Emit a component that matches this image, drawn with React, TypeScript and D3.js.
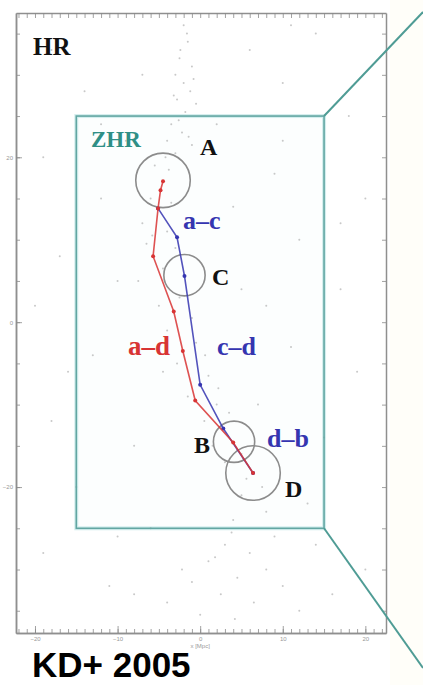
import React, { useEffect, useRef } from 'react';
import * as d3 from 'd3';

// path points, x / y in Mpc
const redX = [-4.5, -4.8, -5.1, -5.7, -3.2, -2.1, -0.6, 4.0, 6.4];
const redY = [17.1, 16.0, 13.8, 8.0, 1.3, -3.5, -9.5, -14.6, -18.3];
const blueX = [-5.1, -2.8, -1.9, 0.0, 2.8, 6.4];
const blueY = [13.8, 10.3, 5.6, -7.6, -12.9, -18.3];

const circleNames = ['A', 'C', 'B', 'D'];
const circleX = [-4.5, -1.9, 4.1, 6.4];
const circleY = [17.2, 5.7, -14.5, -18.3];
const circleR = [3.3, 2.5, 2.5, 3.3];

const zhrBox = [-15, 15, -25, 25];
const xTicks = [-20, -10, 0, 10, 20];
const yTicks = [-20, 0, 20];

// faint galaxies
const noiseX = [-2, -1.5, -2.5, -1, -3, -2, -1.2, -2.8, -0.5, -1.8, -3.5, -2.2, -4, -1, -3,
  -5.5, -3.8, -6, -3.5, -7, -4, -6.5, -3, -4.5, -7.5, -2.5, -5, -1, -4, -2.8, -0.5, -4.5, 1, -1.5, 2, 0.5, 3.5, 1.5, 5, 3, 7.5, 5, 8, 4,
  3, 6, 1, 8, 4.5, -1, 2.5, 6.5, 10, -4, 0, 12, -8,
  -18, -14, -19, -12, -17, -20, -13, -18, -15, -19, -11, -7, -9, -10, -8, -6, 6, 10, 14, 18, 9, 12, 17, 19, 11, 8, 15, 13, 20, 16, 7, 10, 4, 2, 5, -10, 11, 20,
  -1.6, -2.4, -0.8, -3.2, -2.6, -1.4, -4.2, -5.8, 0.6, 2.2, 5.6, 3.8, 1.8, -2.2, 4.2, 9, -12, -16, 14, 17];
const noiseY = [36, 34, 32, 31, 30, 29, 28, 27, 26.5, 25.5, 24, 23, 22, 21.5, 20.5,
  19, 18.5, 15, 14.5, 12, 11, 9.5, 9, 6.5, 5, 3, 2, 0.5, -1, -5, -2.5, -6, -6.5, -9, -10, -12, -11, -15, -16, -17, -20, -21, -23, -24,
  -27, -28, -29, -30, -31, -31.5, -33, -34, -32, -34, -35.5, -35, -33,
  33, 28, 20, 15, 8, 2, -4, -12, -20, -28, -32, 30, 22, 5, -15, -25, 33, 29, 35, 25, 18, 10, 4, -6, -3, 2, -14, -22, -30, -33, -10, 22, 14, 24, 4, -26, 36, 15,
  35, 33, 29.5, 27.5, 24.5, 22.5, 20, 10.5, -4, -8, -19, -25.5, -28.5, -30, -36, -26, 24, -6, -27, 12];

const W = 423;
const H = 685;

const App = () => {
  const svgRef = useRef<SVGSVGElement>(null);

  useEffect(() => {
    const svg = d3.select(svgRef.current);
    svg.selectAll('*').remove();

    const left = 16, right = 386, top = 13, bottom = 633;
    const x = d3.scaleLinear().domain([-22.3, 22.5]).range([left, right]);
    const y = d3.scaleLinear().domain([-37.7, 37.5]).range([bottom, top]);
    const px = (u: number) => x(u) - x(0);

    const serif = "'Liberation Serif', 'DejaVu Serif', serif";

    svg.append('rect').attr('x', 390).attr('y', 0).attr('width', W - 390).attr('height', H)
      .attr('fill', '#fffef9');

    // ZHR box glow
    svg.append('rect')
      .attr('x', x(zhrBox[0])).attr('y', y(zhrBox[3]))
      .attr('width', x(zhrBox[1]) - x(zhrBox[0]))
      .attr('height', y(zhrBox[2]) - y(zhrBox[3]))
      .attr('fill', '#fcfefe')
      .attr('stroke', '#d4eeee').attr('stroke-width', 4);

    // galaxies
    svg.append('g').selectAll('circle')
      .data(noiseX.map((d, i) => [d, noiseY[i]]))
      .enter().append('circle')
      .attr('cx', d => x(d[0])).attr('cy', d => y(d[1]))
      .attr('r', 1).attr('fill', '#9a9a9a').attr('opacity', 0.55);

    // axes
    const frame = svg.append('g').attr('color', '#8a8a8a').attr('font-family', 'sans-serif');
    const minorX = d3.range(-22, 23, 1);
    const minorY = d3.range(-35, 36, 5);
    const styleAxis = (g: any) => {
      g.select('.domain').attr('stroke', '#8f8f8f').attr('stroke-width', 1.5);
      g.selectAll('.tick line').attr('stroke-width', 0.8);
      g.selectAll('.tick text').attr('font-size', 6).attr('fill', '#999');
    };
    frame.append('g').attr('transform', `translate(0,${bottom})`)
      .call(d3.axisBottom(x).tickValues(minorX).tickSizeInner(-4).tickSizeOuter(0).tickFormat(() => ''))
      .call(styleAxis);
    frame.append('g').attr('transform', `translate(0,${bottom})`)
      .call(d3.axisBottom(x).tickValues(xTicks).tickSizeInner(-7).tickSizeOuter(0).tickPadding(4).tickFormat(d3.format('d')))
      .call(styleAxis);
    frame.append('g').attr('transform', `translate(0,${top})`)
      .call(d3.axisTop(x).tickValues(minorX).tickSizeInner(-5).tickSizeOuter(0).tickFormat(() => ''))
      .call(styleAxis);
    frame.append('g').attr('transform', `translate(${left},0)`)
      .call(d3.axisLeft(y).tickValues(minorY).tickSizeInner(-4).tickSizeOuter(0).tickFormat(() => ''))
      .call(styleAxis);
    frame.append('g').attr('transform', `translate(${left},0)`)
      .call(d3.axisLeft(y).tickValues(yTicks).tickSizeInner(-6).tickSizeOuter(0).tickPadding(3).tickFormat(d3.format('d')))
      .call(styleAxis);
    frame.append('g').attr('transform', `translate(${right},0)`)
      .call(d3.axisRight(y).tickValues(minorY).tickSizeInner(-4).tickSizeOuter(0).tickFormat(() => ''))
      .call(styleAxis);
    svg.append('text').attr('x', x(0)).attr('y', bottom + 15)
      .attr('text-anchor', 'middle').attr('font-size', 6).attr('fill', '#999')
      .attr('font-family', 'sans-serif').text('x [Mpc]');

    // ZHR outline + zoom lines
    svg.append('rect')
      .attr('x', x(zhrBox[0])).attr('y', y(zhrBox[3]))
      .attr('width', x(zhrBox[1]) - x(zhrBox[0]))
      .attr('height', y(zhrBox[2]) - y(zhrBox[3]))
      .attr('fill', 'none').attr('stroke', '#62a6a2').attr('stroke-width', 1.6);
    svg.append('line').attr('x1', x(zhrBox[1])).attr('y1', y(zhrBox[3]))
      .attr('x2', W).attr('y2', 12).attr('stroke', '#4f9c95').attr('stroke-width', 2);
    svg.append('line').attr('x1', x(zhrBox[1])).attr('y1', y(zhrBox[2]))
      .attr('x2', W).attr('y2', 668).attr('stroke', '#4f9c95').attr('stroke-width', 2);

    // circles
    svg.append('g').selectAll('circle')
      .data(circleNames.map((n, i) => i))
      .enter().append('circle')
      .attr('cx', i => x(circleX[i])).attr('cy', i => y(circleY[i]))
      .attr('r', i => px(circleR[i]))
      .attr('fill', 'none').attr('stroke', '#8c8c8c').attr('stroke-width', 1.6);

    const line = d3.line<number[]>().x(d => x(d[0])).y(d => y(d[1]));
    const drawPath = (xs: number[], ys: number[], color: string) => {
      const pts = xs.map((d, i) => [d, ys[i]]);
      svg.append('path').attr('d', line(pts)).attr('fill', 'none')
        .attr('stroke', color).attr('stroke-width', 1.6).attr('opacity', 0.85);
      svg.append('g').selectAll('circle').data(pts).enter().append('circle')
        .attr('cx', d => x(d[0])).attr('cy', d => y(d[1])).attr('r', 2).attr('fill', color);
    };
    drawPath(blueX, blueY, '#3535b0');
    drawPath(redX, redY, '#d83434');

    // labels
    const label = (t: string, lx: number, ly: number, size: number, color: string) =>
      svg.append('text').attr('x', lx).attr('y', ly).attr('font-family', serif)
        .attr('font-weight', 'bold').attr('font-size', size).attr('fill', color).text(t);
    label('HR', 33, 55, 25, '#111');
    label('ZHR', 91, 147, 23, '#2f8f86');
    label('A', 200, 155, 24, '#111');
    label('a–c', 183, 229, 26, '#3535b0');
    label('C', 212, 285, 24, '#111');
    label('a–d', 128, 355, 27, '#d83434');
    label('c–d', 217, 355, 26, '#3535b0');
    label('B', 194, 453, 24, '#111');
    label('d–b', 267, 447, 26, '#3535b0');
    label('D', 285, 497, 24, '#111');

    svg.append('text').attr('x', 32).attr('y', 677)
      .attr('font-family', "'Liberation Sans', Arial, sans-serif").attr('font-weight', 'bold')
      .attr('font-size', 35).attr('fill', '#000').text('KD+ 2005');
  }, []);

  return (
    <div style={{ position: 'fixed', left: 0, top: 0, width: W, height: H, background: '#fff' }}>
      <svg ref={svgRef} width={W} height={H} style={{ display: 'block' }} />
    </div>
  );
};

export default App;
